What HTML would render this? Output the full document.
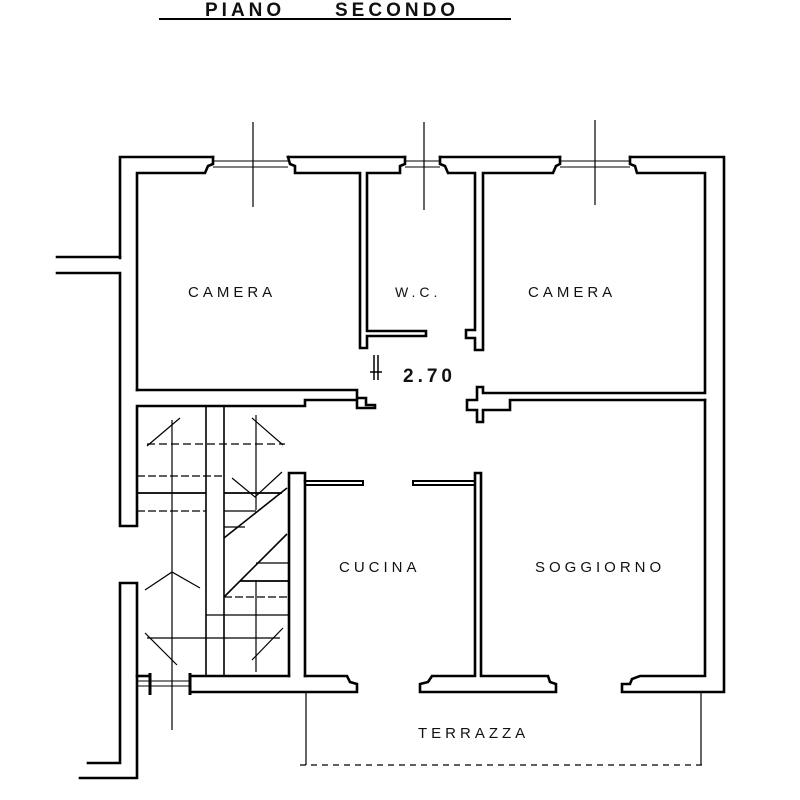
<!DOCTYPE html>
<html><head><meta charset="utf-8"><style>
html,body{margin:0;padding:0;background:#fff;}
svg{display:block}
text{font-family:"Liberation Sans",sans-serif;fill:#111;letter-spacing:4px}
</style></head><body>
<svg width="800" height="800" viewBox="0 0 800 800" xmlns="http://www.w3.org/2000/svg">
<g fill="none" stroke="#000" stroke-width="2.6" stroke-linejoin="miter" stroke-linecap="square">
<line x1="160" y1="19" x2="510" y2="19" stroke-width="2"/>
<polyline points="120,258 120,157 213,157"/>
<polyline points="288,157 405,157"/>
<polyline points="440,157 560,157"/>
<polyline points="630,157 724,157 724,692 622,692 622,684 630,684 632,679 640,676 705,676 705,400"/>
<polyline points="137,390 137,173 205,173 208,166 213,164 213,157"/>
<polyline points="288,157 290,164 295,166 295,173 360,173 360,348 367,348 367,336 426,336 426,331 367,331 367,173 400,173 400,166 405,164 405,157"/>
<polyline points="440,157 440,164 445,166 448,173 475,173 475,330 466,330 466,338 475,338 475,350 483,350 483,173 553,173 556,166 560,164 560,157"/>
<polyline points="630,157 630,164 635,166 637,173 705,173 705,393 483,393 483,387 477,387 477,400 467,400 467,410 477,410 477,422 483,422 483,410 510,410 510,400 705,400"/>
<polyline points="137,390 357,390 357,398 366,398 366,405 375,405 375,408 357,408 357,400 305,400 305,406 137,406 137,526 120,526 120,273 57,273"/>
<line x1="57" y1="257" x2="120" y2="257"/>
<polyline points="289,676 289,473 305,473 305,481"/>
<line x1="305" y1="481" x2="305" y2="676"/>
<rect x="413" y="481" width="62" height="4" stroke-width="2"/>
<rect x="305" y="481" width="58" height="4" stroke-width="2"/>
<polyline points="475,473 481,473 481,676 548,676 550,682 556,684 556,692 420,692 420,684 428,682 432,676 475,676 475,473"/>
<polyline points="305,676 347,676 350,682 357,684 357,692 190,692"/>
<polyline points="137,676 150,676"/><polyline points="190,676 289,676"/>
<polyline points="88,763 120,763 120,583 137,583 137,778 80,778"/>
</g>
<g stroke="#000" stroke-width="2">
<line x1="213" y1="161" x2="288" y2="161" stroke-width="1"/><line x1="213" y1="167" x2="288" y2="167" stroke-width="1"/>
<line x1="405" y1="161" x2="440" y2="161" stroke-width="1"/><line x1="405" y1="167" x2="440" y2="167" stroke-width="1"/>
<line x1="560" y1="161" x2="630" y2="161" stroke-width="1"/><line x1="560" y1="167" x2="630" y2="167" stroke-width="1"/>
<line x1="137" y1="681" x2="190" y2="681" stroke-width="1"/><line x1="137" y1="686" x2="190" y2="686" stroke-width="1"/>
<line x1="150" y1="673" x2="150" y2="695" stroke-width="3"/><line x1="190" y1="673" x2="190" y2="695" stroke-width="3"/>
</g>
<g stroke="#000" stroke-width="1.2" fill="none">
<line x1="253" y1="122" x2="253" y2="207"/>
<line x1="424" y1="122" x2="424" y2="210"/>
<line x1="595" y1="120" x2="595" y2="205"/>
<line x1="306" y1="692" x2="306" y2="765"/>
<line x1="701" y1="692" x2="701" y2="765"/>
<line x1="300" y1="765" x2="705" y2="765" stroke-dasharray="6,5"/>
<line x1="206" y1="406" x2="206" y2="676" stroke-width="1.6"/>
<line x1="224" y1="406" x2="224" y2="676" stroke-width="1.6"/>
<line x1="172" y1="420" x2="172" y2="730"/>
<line x1="256" y1="415" x2="256" y2="510"/>
<line x1="256" y1="580" x2="256" y2="672"/>
<line x1="147" y1="444" x2="285" y2="444" stroke-dasharray="8,4"/>
<line x1="137" y1="476" x2="224" y2="476" stroke-dasharray="8,3"/>
<line x1="137" y1="493" x2="206" y2="493" stroke-width="1.8"/>
<line x1="224" y1="493" x2="282" y2="493" stroke-width="1.8"/>
<line x1="137" y1="511" x2="206" y2="511" stroke-dasharray="8,3"/>
<line x1="224" y1="511" x2="256" y2="511"/>
<line x1="224" y1="527" x2="245" y2="527"/>
<line x1="147" y1="446" x2="180" y2="418"/>
<line x1="252" y1="418" x2="283" y2="445"/>
<polyline points="232,478 255,497 282,472"/>
<line x1="224" y1="538" x2="287" y2="488" stroke-width="1.6"/>
<line x1="224" y1="597" x2="287" y2="534" stroke-width="1.6"/>
<line x1="256" y1="563" x2="289" y2="563"/>
<line x1="240" y1="581" x2="289" y2="581" stroke-width="1.8"/>
<line x1="224" y1="597" x2="289" y2="597" stroke-dasharray="8,3"/>
<line x1="206" y1="615" x2="289" y2="615"/>
<line x1="147" y1="638" x2="280" y2="638"/>
<polyline points="145,590 172,572 200,588"/>
<line x1="145" y1="633" x2="177" y2="665"/>
<line x1="252" y1="660" x2="283" y2="628"/>
<line x1="374" y1="355" x2="374" y2="380" stroke-width="1.5"/>
<line x1="378" y1="355" x2="378" y2="380" stroke-width="1.5"/>
<line x1="370" y1="372" x2="382" y2="372" stroke-width="1.5"/>
</g>
<text x="205" y="16" font-size="19" font-weight="bold" letter-spacing="3">PIANO</text>
<text x="335" y="16" font-size="19" font-weight="bold" letter-spacing="5">SECONDO</text>
<text x="188" y="297" font-size="15">CAMERA</text>
<text x="395" y="297" font-size="14">W.C.</text>
<text x="528" y="297" font-size="15">CAMERA</text>
<text x="403" y="382" font-size="19" font-weight="bold" letter-spacing="0">2.70</text>
<text x="339" y="572" font-size="15">CUCINA</text>
<text x="535" y="572" font-size="15">SOGGIORNO</text>
<text x="418" y="738" font-size="15">TERRAZZA</text>
</svg>
</body></html>
